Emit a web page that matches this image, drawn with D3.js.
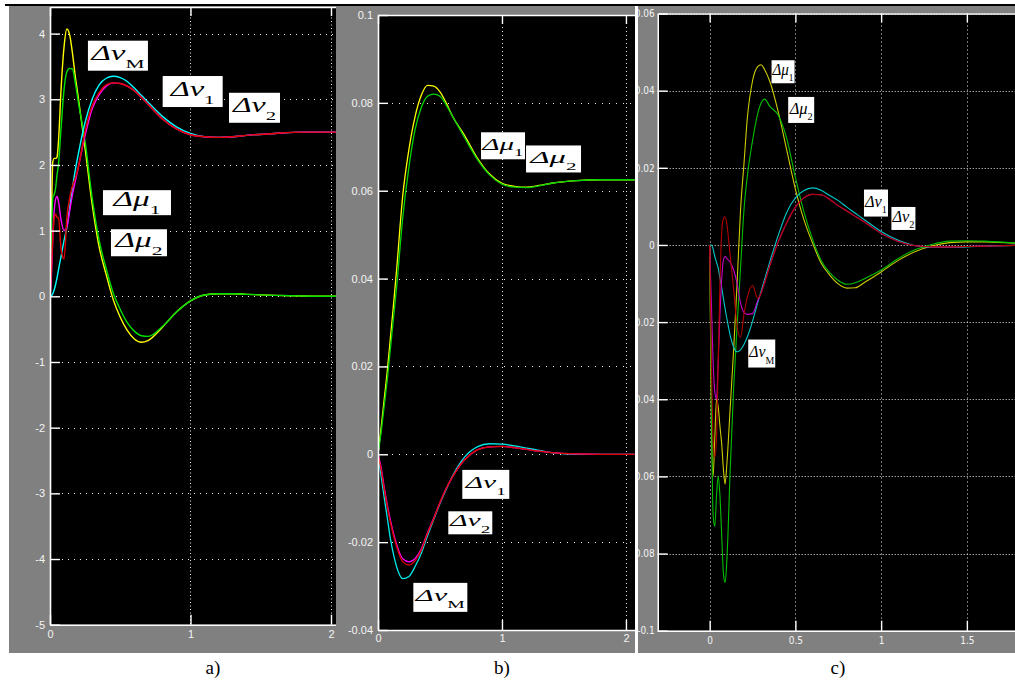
<!DOCTYPE html>
<html>
<head>
<meta charset="utf-8">
<script src="https://cdn.jsdelivr.net/npm/d3@7"></script>
<style>
  body { margin: 0; background: #fff }
  svg { display: block }
</style>
</head>
<body>
<svg id="chart" width="1015" height="681"></svg>
<script>
// a) step response
var timeA = [0, 0.01, 0.02, 0.03, 0.04, 0.05, 0.06, 0.08, 0.10, 0.12, 0.14, 0.16, 0.18, 0.20, 0.25, 0.30, 0.35, 0.40, 0.45, 0.50, 0.55, 0.60, 0.65, 0.70, 0.80, 0.90, 1.00, 1.10, 1.20, 1.30, 1.40, 1.60, 1.80, 2.00, 2.04]
var aMu1 = [0.45, 1.2, 2.05, 2.1, 2.1, 2.12, 2.35, 3.2, 3.8, 4.07, 3.98, 3.7, 3.35, 3.05, 2.25, 1.4, 0.75, 0.33, -0.05, -0.32, -0.52, -0.65, -0.70, -0.67, -0.47, -0.24, -0.07, 0.02, 0.04, 0.04, 0.03, 0.015, 0.005, 0, 0]
var aMu2 = [0, 1.0, 1.5, 1.55, 1.65, 1.85, 2.0, 2.6, 3.15, 3.42, 3.47, 3.46, 3.25, 2.98, 2.35, 1.5, 0.85, 0.42, 0.05, -0.2, -0.4, -0.53, -0.6, -0.61, -0.46, -0.24, -0.07, 0.02, 0.04, 0.04, 0.03, 0.015, 0.005, 0, 0]
var aNuM = [0, 0.01, 0.04, 0.1, 0.18, 0.28, 0.4, 0.62, 0.85, 1.05, 1.35, 1.65, 1.92, 2.15, 2.65, 3.0, 3.22, 3.32, 3.35, 3.33, 3.27, 3.17, 3.06, 2.95, 2.74, 2.58, 2.48, 2.43, 2.42, 2.43, 2.45, 2.48, 2.5, 2.5, 2.5]
var aNu1 = [0, 0.3, 0.9, 1.3, 1.48, 1.52, 1.45, 1.15, 1.0, 1.05, 1.3, 1.55, 1.75, 1.95, 2.45, 2.85, 3.07, 3.2, 3.25, 3.24, 3.2, 3.13, 3.03, 2.92, 2.7, 2.55, 2.46, 2.43, 2.42, 2.43, 2.45, 2.48, 2.5, 2.5, 2.5]
var aNu2 = [0, 0.4, 0.9, 1.2, 1.25, 1.2, 1.2, 0.7, 0.57, 1.2, 1.5, 1.68, 1.8, 1.95, 2.52, 2.9, 3.1, 3.22, 3.25, 3.24, 3.2, 3.13, 3.03, 2.92, 2.7, 2.55, 2.46, 2.43, 2.42, 2.43, 2.45, 2.48, 2.5, 2.5, 2.5]
var xTicksA = [0, 1, 2]
var xLabelsA = ['0', '1', '2']
var yTicksA = [-5, -4, -3, -2, -1, 0, 1, 2, 3, 4]
var yLabelsA = ['-5', '-4', '-3', '-2', '-1', '0', '1', '2', '3', '4']

// b)
var timeB = [0, 0.025, 0.05, 0.075, 0.1, 0.125, 0.15, 0.2, 0.25, 0.3, 0.35, 0.4, 0.45, 0.5, 0.55, 0.6, 0.7, 0.8, 0.9, 1.0, 1.1, 1.2, 1.3, 1.4, 1.6, 1.8, 2.0, 2.07]
var bMu1 = [0, 0.006, 0.0125, 0.019, 0.0265, 0.034, 0.042, 0.059, 0.0695, 0.077, 0.0818, 0.084, 0.0838, 0.0825, 0.08, 0.077, 0.0725, 0.0675, 0.0638, 0.0617, 0.061, 0.0608, 0.0612, 0.0617, 0.0623, 0.0625, 0.0625, 0.0625]
var bMu2 = [0, 0.005, 0.011, 0.017, 0.024, 0.031, 0.038, 0.054, 0.0655, 0.074, 0.079, 0.0815, 0.082, 0.0815, 0.0795, 0.077, 0.072, 0.0672, 0.0636, 0.0615, 0.0608, 0.0607, 0.0611, 0.0617, 0.0623, 0.0625, 0.0625, 0.0625]
var bNuM = [0, -0.005, -0.0098, -0.0145, -0.0192, -0.0228, -0.0256, -0.0283, -0.0278, -0.0255, -0.0225, -0.0185, -0.0148, -0.0112, -0.008, -0.005, -0.0006, 0.0017, 0.0024, 0.0023, 0.0019, 0.0014, 0.0009, 0.0004, 0, 0, 0, 0]
var bNu1 = [0, -0.003, -0.0075, -0.0115, -0.015, -0.018, -0.0205, -0.0238, -0.0245, -0.0237, -0.0215, -0.0178, -0.0145, -0.011, -0.0078, -0.0052, -0.0012, 0.001, 0.0017, 0.0018, 0.0015, 0.0011, 0.0007, 0.0004, 0.0001, 0, 0, 0]
var bNu2 = [0, -0.0035, -0.008, -0.012, -0.0155, -0.0185, -0.021, -0.0245, -0.0252, -0.0242, -0.0218, -0.018, -0.0146, -0.011, -0.0078, -0.0052, -0.0012, 0.001, 0.0017, 0.0018, 0.0015, 0.0011, 0.0007, 0.0004, 0.0001, 0, 0, 0]
var xTicksB = [0, 1, 2]
var xLabelsB = ['0', '1', '2']
var yTicksB = [-0.04, -0.02, 0, 0.02, 0.04, 0.06, 0.08, 0.1]
var yLabelsB = ['-0.04', '-0.02', '0', '0.02', '0.04', '0.06', '0.08', '0.1']

// c)
var timeC = [0, 0.01, 0.02, 0.03, 0.04, 0.05, 0.06, 0.07, 0.08, 0.09, 0.1, 0.12, 0.14, 0.16, 0.18, 0.2, 0.22, 0.25, 0.28, 0.3, 0.32, 0.35, 0.4, 0.45, 0.5, 0.55, 0.6, 0.65, 0.7, 0.75, 0.8, 0.85, 0.9, 1.0, 1.1, 1.2, 1.3, 1.4, 1.5, 1.6, 1.8, 2.0]
var cMu1 = [0, -0.045, -0.06, -0.05, -0.04, -0.042, -0.047, -0.0515, -0.058, -0.062, -0.057, -0.042, -0.027, -0.01, 0.009, 0.021, 0.033, 0.0425, 0.0462, 0.0467, 0.0455, 0.0425, 0.0345, 0.0245, 0.0145, 0.0065, 0.0005, -0.0047, -0.0078, -0.0101, -0.0112, -0.0111, -0.0098, -0.007, -0.004, -0.0017, -0.0002, 0.0006, 0.0008, 0.0008, 0.0004, 0.0002]
var cMu2 = [0, -0.04, -0.07, -0.073, -0.065, -0.06, -0.065, -0.075, -0.085, -0.0875, -0.082, -0.058, -0.037, -0.021, -0.006, 0.009, 0.018, 0.027, 0.034, 0.0368, 0.0378, 0.036, 0.0336, 0.0275, 0.0175, 0.0085, 0.0015, -0.004, -0.0072, -0.0092, -0.0102, -0.0098, -0.0088, -0.0065, -0.0035, -0.0012, 0.0002, 0.001, 0.0011, 0.001, 0.0005, 0.0002]
var cNuM = [0, 0, -0.001, -0.003, -0.0045, -0.006, -0.0085, -0.011, -0.0138, -0.0165, -0.019, -0.0235, -0.0265, -0.0277, -0.0272, -0.0258, -0.0238, -0.0198, -0.015, -0.012, -0.009, -0.0045, 0.0025, 0.0085, 0.0122, 0.0141, 0.0148, 0.0142, 0.0128, 0.0115, 0.0098, 0.0082, 0.0066, 0.0035, 0.0012, -0.0002, -0.0006, -0.0006, -0.0005, -0.0003, -0.0001, 0]
var cNu1 = [0, -0.015, -0.03, -0.038, -0.04, -0.03, -0.018, -0.009, -0.004, -0.003, -0.0035, -0.0045, -0.0065, -0.01, -0.015, -0.0175, -0.018, -0.0178, -0.0145, -0.0125, -0.0098, -0.0055, 0.0008, 0.0058, 0.0098, 0.0122, 0.0131, 0.013, 0.0118, 0.0102, 0.0088, 0.0074, 0.006, 0.003, 0.0009, -0.0002, -0.0005, -0.0005, -0.0004, -0.0003, -0.0001, 0]
var cNu2 = [0, -0.03, -0.05, -0.055, -0.05, -0.03, -0.01, 0.003, 0.0068, 0.0073, 0.0055, -0.003, -0.0115, -0.021, -0.024, -0.018, -0.0135, -0.0105, -0.0138, -0.0125, -0.0098, -0.0055, 0.0008, 0.0058, 0.0098, 0.0122, 0.0131, 0.013, 0.0118, 0.0102, 0.0088, 0.0074, 0.006, 0.003, 0.0009, -0.0002, -0.0005, -0.0005, -0.0004, -0.0003, -0.0001, 0]
var xTicksC = [0, 0.5, 1, 1.5]
var xLabelsC = ['0', '0.5', '1', '1.5']
var yTicksC = [-0.1, -0.08, -0.06, -0.04, -0.02, 0, 0.02, 0.04, 0.06]
var yLabelsC = ['-0.1', '-0.08', '-0.06', '-0.04', '-0.02', '0', '0.02', '0.04', '0.06']

var seriesKeys = ['mu1', 'mu2', 'nuM', 'nu1', 'nu2']

// annotation boxes, anchored at their top-left corner in data units
var labelsA = [
  {main: 'Δν', sub: 'M', t: 0.270, v: 3.892, w: 60, h: 30, tw: 53},
  {main: 'Δν', sub: '1', t: 0.802, v: 3.354, w: 60, h: 31, tw: 44},
  {main: 'Δν', sub: '2', t: 1.274, v: 3.099, w: 51, h: 30, tw: 43},
  {main: 'Δμ', sub: '1', t: 0.377, v: 1.616, w: 68, h: 25, tw: 47},
  {main: 'Δμ', sub: '2', t: 0.434, v: 1.021, w: 56, h: 27, tw: 47}
]
var labelsB = [
  {main: 'Δμ', sub: '1', t: 0.831, v: 0.0733, w: 44, h: 27, tw: 41},
  {main: 'Δμ', sub: '2', t: 1.194, v: 0.0703, w: 55, h: 27, tw: 46},
  {main: 'Δν', sub: '1', t: 0.680, v: -0.00355, w: 47, h: 29, tw: 40},
  {main: 'Δν', sub: '2', t: 0.567, v: -0.01298, w: 44, h: 23, tw: 40},
  {main: 'Δν', sub: 'M', t: 0.285, v: -0.02927, w: 54, h: 29, tw: 49}
]
var labelsC = [
  {main: 'Δμ', sub: '1', t: 0.361, v: 0.04788, w: 23, h: 23, tw: 21},
  {main: 'Δμ', sub: '2', t: 0.458, v: 0.03837, w: 26, h: 26, tw: 23},
  {main: 'Δν', sub: '1', t: 0.900, v: 0.01436, w: 24, h: 27, tw: 22},
  {main: 'Δν', sub: '2', t: 1.060, v: 0.00985, w: 24, h: 23, tw: 22},
  {main: 'Δν', sub: 'M', t: 0.225, v: -0.02452, w: 27, h: 28, tw: 25}
]

var panels = [
  {
    caption: 'a)', capX: 213,
    frame: {x: 9, y: 6, w: 327, h: 647},
    plot: {left: 50, top: 7, right: 336, bottom: 624.7},
    xDomain: [0, 2.0356], yDomain: [-5, 4.405],
    time: timeA, series: {mu1: aMu1, mu2: aMu2, nuM: aNuM, nu1: aNu1, nu2: aNu2},
    colors: {mu1: '#ffff00', mu2: '#00e000', nuM: '#00ffff', nu1: '#ff00ff', nu2: '#e00000'},
    xTicks: xTicksA, xLabels: xLabelsA, yTicks: yTicksA, yLabels: yLabelsA, labels: labelsA,
    tickFont: '11px "Liberation Sans", Arial, sans-serif', yPad: 5, xPad: 6,
    hDash: '1,5', vDash: '1,2.5', labFont: 20, subFont: 13, lineW: 1.4
  },
  {
    caption: 'b)', capX: 502,
    frame: {x: 336, y: 6, w: 299, h: 647},
    plot: {left: 378, top: 15, right: 635, bottom: 630},
    xDomain: [0, 2.073], yDomain: [-0.04, 0.1],
    time: timeB, series: {mu1: bMu1, mu2: bMu2, nuM: bNuM, nu1: bNu1, nu2: bNu2},
    colors: {mu1: '#ffff00', mu2: '#00d400', nuM: '#00e8e8', nu1: '#ff00ff', nu2: '#e00000'},
    xTicks: xTicksB, xLabels: xLabelsB, yTicks: yTicksB, yLabels: yLabelsB, labels: labelsB,
    tickFont: '11px "Liberation Sans", Arial, sans-serif', yPad: 5, xPad: 4,
    hDash: '1,6', vDash: '1,3', labFont: 17, subFont: 11, lineW: 1.3
  },
  {
    caption: 'c)', capX: 838,
    frame: {x: 638, y: 6, w: 377, h: 647},
    plot: {left: 657.7, top: 13.5, right: 1052.6, bottom: 630.7},
    xDomain: [-0.303, 2.0], yDomain: [-0.1, 0.06],
    time: timeC, series: {mu1: cMu1, mu2: cMu2, nuM: cNuM, nu1: cNu1, nu2: cNu2},
    colors: {mu1: '#cccc00', mu2: '#00c000', nuM: '#00c8c8', nu1: '#c800c8', nu2: '#b40000'},
    xTicks: xTicksC, xLabels: xLabelsC, yTicks: yTicksC, yLabels: yLabelsC, labels: labelsC,
    tickFont: '10px "Liberation Sans Narrow", "DejaVu Sans Condensed", sans-serif', yPad: 3, xPad: 6,
    hDash: '1,2', vDash: '1,3', labFont: 16, subFont: 10, lineW: 1.1
  }
]

var svg = d3.select('#chart')
var defs = svg.append('defs')

// rule across the top of the figure
svg.append('rect').attr('x', 5).attr('y', 4).attr('width', 1010).attr('height', 2).attr('fill', '#000')

panels.forEach((p, pi) => {
  defs.append('clipPath').attr('id', 'frame' + pi).append('rect')
    .attr('x', p.frame.x).attr('y', p.frame.y).attr('width', p.frame.w).attr('height', p.frame.h)
  defs.append('clipPath').attr('id', 'plot' + pi).append('rect')
    .attr('x', p.plot.left).attr('y', p.plot.top)
    .attr('width', p.plot.right - p.plot.left).attr('height', p.plot.bottom - p.plot.top)

  var g = svg.append('g').attr('clip-path', `url(#frame${pi})`)
  g.append('rect').attr('x', p.frame.x).attr('y', p.frame.y)
    .attr('width', p.frame.w).attr('height', p.frame.h).attr('fill', '#808080')
  g.append('rect').attr('x', p.plot.left).attr('y', p.plot.top)
    .attr('width', p.plot.right - p.plot.left).attr('height', p.plot.bottom - p.plot.top).attr('fill', '#000')

  var x = d3.scaleLinear().domain(p.xDomain).range([p.plot.left, p.plot.right])
  var y = d3.scaleLinear().domain(p.yDomain).range([p.plot.bottom, p.plot.top])

  // dotted grid
  g.append('g').selectAll('line').data(p.yTicks).join('line')
    .attr('x1', p.plot.left).attr('x2', p.plot.right)
    .attr('y1', d => Math.round(y(d)) + 0.5).attr('y2', d => Math.round(y(d)) + 0.5)
    .attr('stroke', '#e8e8e8').attr('stroke-dasharray', p.hDash)
  g.append('g').selectAll('line').data(p.xTicks).join('line')
    .attr('y1', p.plot.top).attr('y2', p.plot.bottom)
    .attr('x1', d => Math.round(x(d)) + 0.5).attr('x2', d => Math.round(x(d)) + 0.5)
    .attr('stroke', '#e8e8e8').attr('stroke-dasharray', p.vDash)

  // traces
  var line = d3.line().x(d => x(d[0])).y(d => y(d[1])).curve(d3.curveMonotoneX)
  var cg = g.append('g').attr('clip-path', `url(#plot${pi})`)
  seriesKeys.forEach(k => {
    cg.append('path')
      .datum(p.time.map((t, i) => [t, p.series[k][i]]))
      .attr('d', line)
      .attr('fill', 'none')
      .attr('stroke', p.colors[k])
      .attr('stroke-width', p.lineW)
  })

  // axes, ticks pointing inwards like the scope window
  var styleAxis = ax => {
    ax.attr('font-family', null).attr('font-size', null)
    ax.select('.domain').attr('stroke', '#fff').attr('stroke-width', 1.6)
    ax.selectAll('.tick line').attr('stroke', '#fff').attr('stroke-width', 1.4)
    ax.selectAll('.tick text').attr('fill', '#f4f4f4').style('font', p.tickFont)
  }
  g.append('g').attr('transform', `translate(${p.plot.left},0)`)
    .call(d3.axisLeft(y).tickValues(p.yTicks).tickFormat((d, i) => p.yLabels[i])
      .tickSizeInner(-10).tickSizeOuter(0).tickPadding(p.yPad))
    .call(styleAxis)
  g.append('g').attr('transform', `translate(0,${p.plot.bottom})`)
    .call(d3.axisBottom(x).tickValues(p.xTicks).tickFormat((d, i) => p.xLabels[i])
      .tickSizeInner(-10).tickSizeOuter(0).tickPadding(p.xPad))
    .call(styleAxis)
  g.append('g').attr('transform', `translate(0,${p.plot.top})`)
    .call(d3.axisTop(x).tickValues(p.xTicks).tickFormat(() => '')
      .tickSizeInner(-9).tickSizeOuter(0))
    .call(styleAxis)

  // name boxes
  p.labels.forEach(l => {
    var bx = x(l.t), by = y(l.v)
    g.append('rect').attr('x', bx).attr('y', by).attr('width', l.w).attr('height', l.h).attr('fill', '#fff')
    var txt = g.append('text')
      .attr('x', bx + (l.w - l.tw) / 2).attr('y', by + l.h * 0.64)
      .attr('font-family', '"Liberation Serif", "Times New Roman", serif')
      .attr('font-size', p.labFont).attr('fill', '#000')
      .attr('textLength', l.tw).attr('lengthAdjust', 'spacingAndGlyphs')
    txt.append('tspan').attr('font-style', 'italic').text(l.main)
    txt.append('tspan').attr('font-size', p.subFont).attr('dy', p.labFont * 0.4).text(l.sub)
  })

  svg.append('text').attr('x', p.capX).attr('y', 674).attr('text-anchor', 'middle')
    .attr('font-family', '"Liberation Serif", "Times New Roman", serif').attr('font-size', 19)
    .text(p.caption)
})
</script>
</body>
</html>
